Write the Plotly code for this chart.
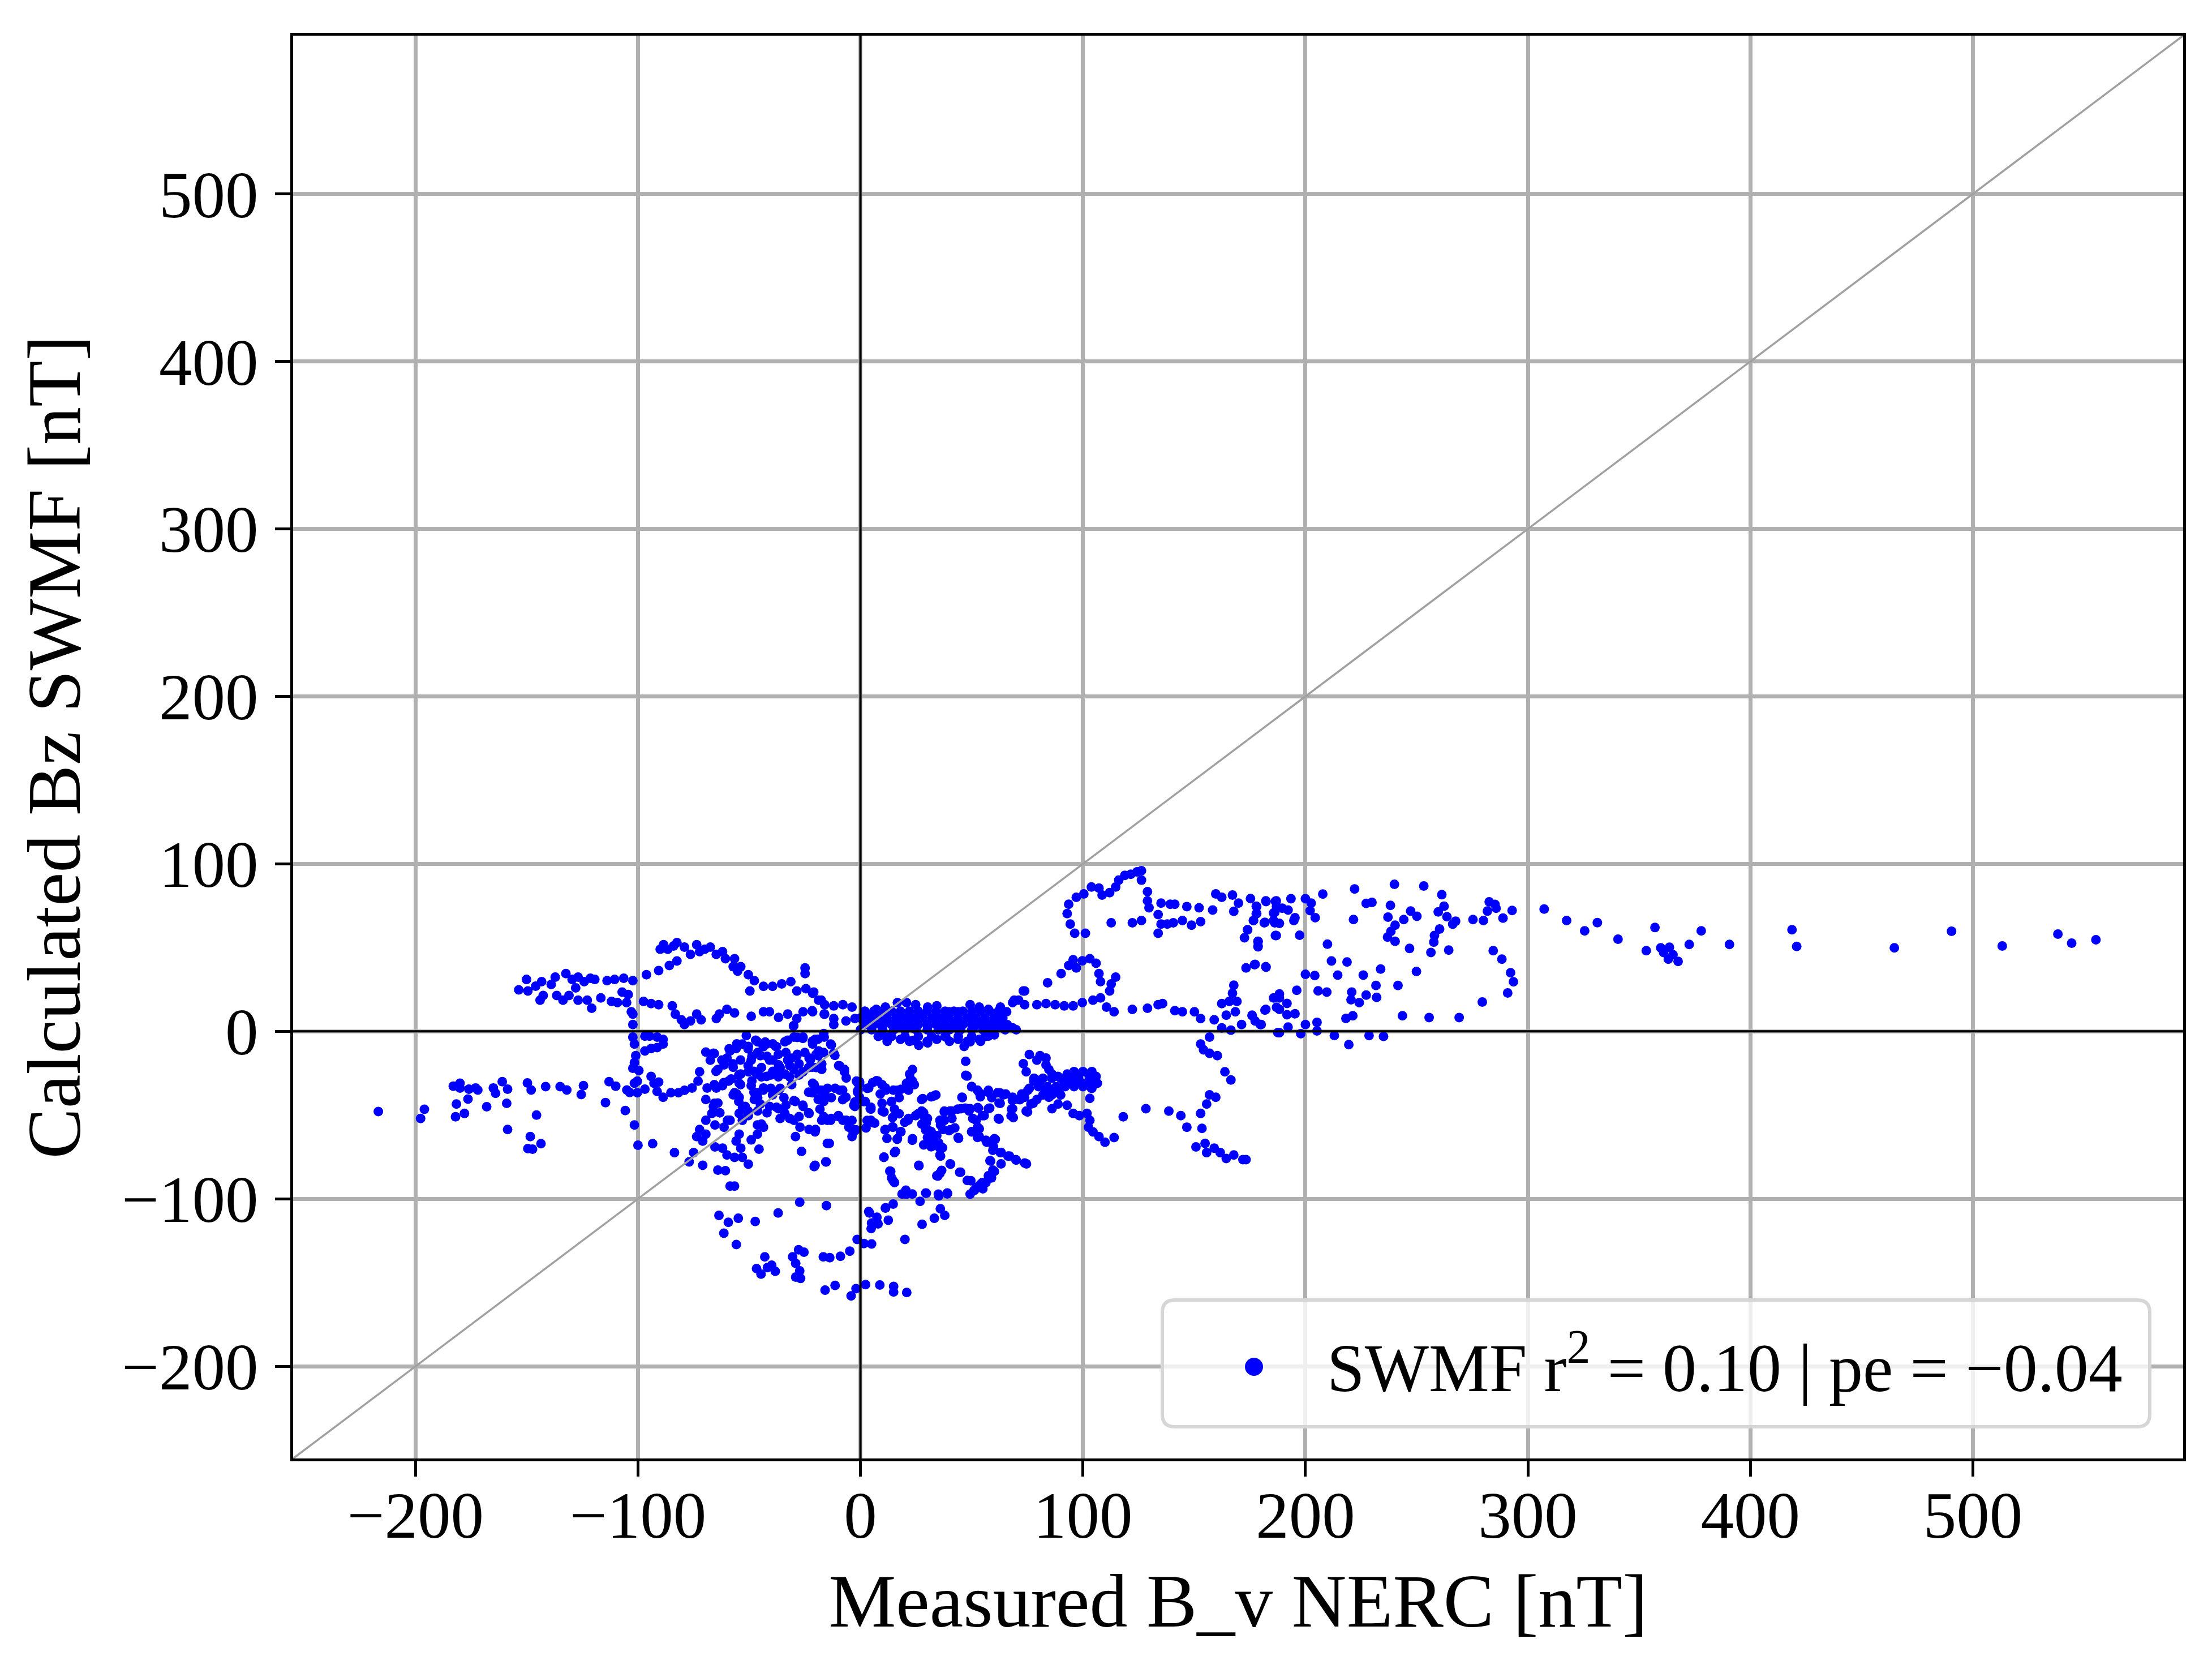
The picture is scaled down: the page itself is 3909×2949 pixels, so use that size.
import plotly.graph_objects as go

# ---------------- data ----------------
left_tail = [(-216.7,-47.9),(-196,-46.5),(-197.7,-52),(-183,-32.7),(-180,-31),(-180,-33.8),(-176,-34.5),
             (-173,-33.8),(-172,-35),(-181.6,-43.4),(-176.4,-40.4),(-182,-51),(-178,-49),(-168,-45),
             (-165,-33.8),(-164,-37),(-161,-30),(-158.6,-34.5),(-159,-43),(-158.6,-58.6),(-149.7,-30.8),
             (-148,-35),(-145.6,-50),(-148.4,-62.8),(-149.5,-70),(-147.4,-70.3),(-143.6,-67),(-141.5,-33),
             (-135,-33),(-132,-35),(-124.5,-32.4),(-125.5,-37.7),(-114.6,-42.5),(-113,-30),(-110,-32.7),
             (-105.7,-47.3),(-105,-35),(-103.7,-36.5),(-101.6,-55.9),(-100,-68),(-93.4,-67),(-83.6,-72.4)]

upper_band = [(-153.6,24.8),(-150.1,31),(-149.5,24.1),(-143.3,29.7),(-144,18.6),(-142.6,21.4),(-137.2,32.4),
              (-132.4,34.5),(-129.6,31),(-126.9,32.4),(-124.2,29.7),(-121.4,31.7),(-119.4,31),(-136.5,21.4),
              (-133.7,18.6),(-131,21.4),(-126.9,18.6),(-122.8,18.6),(-120.8,13.8),(-116.7,20),(-113.9,30.3),
              (-110.5,31),(-106.4,31.7),(-107.1,23.4),(-104.4,22),(-102.3,30.3),(-96.2,33.8),(-90.7,36.3),
              (-85.9,39.3),(-82.5,42),(-90,49),(-88.5,51.7),(-86.6,49),(-82.5,53),(-79.1,50.3),(-76.4,46),
              (-73.6,51.7),(-72.3,47.6),(-67.5,50.3),(-64.8,46),(-62,47.6),(-60.7,43.4),(-56.6,43.4),
              (-57.2,38.6),(-53.8,38.6),(-55.2,35.9),(-50.4,33.8),(-47.7,30.3),(-49.7,24.1),(-43.6,26.9),
              (-39.5,26.9),(-35.4,28.3),(-31.3,29.7),(-28.6,24.1),(-24.5,25.5),(-21,23.4),(-17.6,18.6),
              (-24.9,37.9),(-24.9,34.5),(-146,27),(-139,28),(-128,26),(-84,51),(-70,49)]

mid_band = [(-111.9,17.9),(-109.2,17.2),(-105.1,17.2),(-103,11.7),(-102.3,10.3),(-97.5,17.9),(-94.1,16.6),
            (-90.7,15.9),(-84.6,15.2),(-83.2,10.3),(-80.5,6.9),(-79.1,4.1),(-76.4,6.2),(-73.6,10.3),(-71.6,6.9),
            (-64.8,7.6),(-63.4,10.3),(-60,13.1),(-56.6,11),(-49.1,9),(-43.6,11.7),(-40.9,11.7),(-36.8,8.3),
            (-32.7,10.3),(-28.6,7.6),(-25.8,11.7),(-21.7,12.4),(-16.3,10.3),(-30,3.4),(-102.3,4.1),
            (-21.5,22.8),(-18.8,18.6),(-16.1,15.9),(-12,15.2),(-7.9,15.9),(-3.8,14.5),(-21.5,11.7),
            (-16.1,10.3),(-12,7.6),(-6.5,6.2),(-2.5,7.6),(-12,4.1)]

left_column = [(-102.3,-3.4),(-101.6,-7.6),(-96.9,-2.8),(-94.8,-2.8),(-91.4,-3.4),(-88.7,-4.8),(-88.7,-7.6),
               (-91.4,-9.7),(-94.1,-10.3),(-96.9,-11.7),(-101,-14.5),(-101.6,-18.6),(-102.3,-22),(-99.6,-23.4),
               (-100.3,-29.7),(-101.6,-31),(-100.3,-36.6),(-96.9,-34.5),(-94.1,-26.9),(-92.8,-31),(-90.7,-30.3),
               (-91.4,-35.9),(-88.7,-39.3),(-85.2,-36.6),(-81.8,-36.6),(-79.1,-35.2),(-75.7,-33.8),(-73,-29.7),
               (-72.3,-24.1),(-68.9,-33.8),(-64.8,-33.8),(-62,-32.4),(-59.3,-29.7),(-56.6,-36.6),(-54.5,-31),
               (-53.8,-25.5)]

neg_blob = [(-69.5,-12.4),(-66.1,-13.1),(-67.5,-17.2),(-64.1,-22.8),(-60,-15.9),(-55.9,-10.3),(-58.6,-11.7),
            (-53.1,-7.6),(-50.4,-9),(-46.3,-6.2),(-42.2,-7.6),(-38.1,-9),(-34,-6.2),(-29.9,-3.4),(-25.8,-3.4),
            (-20.4,-4.8),(-16.3,-3.4),(-49.1,-17.2),(-45,-14.5),(-40.8,-17.2),(-36.8,-20),(-32.7,-17.2),
            (-28.6,-14.5),(-23.1,-15.9),(-19,-14.5),(-50.4,-24.1),(-46.3,-25.5),(-42.2,-26.9),(-38.1,-24.1),
            (-34,-25.5),(-29.9,-22.8),(-25.8,-24.1),(-21.7,-21.4),(-17.6,-21.4),(-57.2,-21.4),(-61.3,-20),
            (-49.1,-32.4),(-46.3,-36.6),(-43.6,-33.8),(-39.5,-37.9),(-36.8,-35.2),(-47.7,-40.7),(-45,-43.4),
            (-40.8,-44.8),(-36.8,-46.2),(-51.8,-44.8),(-54.5,-39.3),(-57.2,-37.9),(-54.5,-49),(-53.1,-53.1),
            (-50.4,-50.3),(-58.6,-53.1),(-61.3,-57.2),(-65.4,-55.9),(-69.5,-53.1),(-66.1,-44.8),(-64.1,-42.8),
            (-69.5,-40.7),(-66.8,-49),(-72.3,-58.6),(-73.6,-62.8),(-69.5,-61.4),(-70.9,-65.5),(-75,-72.4),
            (-77,-77.9),(-70.9,-80),(-65.4,-69),(-62,-69.7),(-60,-73.8),(-56.6,-75.2),(-53.1,-75.2),(-50.4,-79.3),
            (-53.8,-69.7),(-55.9,-65.5),(-54.5,-61.4),(-49.1,-64.8),(-46.3,-61.4),(-45.6,-70.3),(-43.6,-57.2),
            (-46.3,-55.9),(-64.1,-82.8),(-60.7,-83.2),(-58.6,-92.4),(-56.6,-92.4),(-34,-49),(-29.9,-53.1),
            (-27.2,-57.2),(-29.2,-62.8),(-25.8,-44.8),(-23.1,-49),(-21.7,-36.6),(-19,-40.7),(-17,-35.2),
            (-23.1,-58.6),(-20.4,-60),(-26.5,-71.7),(-20.4,-80),(-15.6,-77.9),(-14.9,-66.9),(-14.9,-53.1),
            (-29.9,-41.4)]

blob_detail = [(-51.3,-2.5),(-47.1,-5.3),(-42.8,-6.4),(-39.4,-7.5),(-37.7,-9.2),(-32.7,-5.3),(-30.1,3.2),
               (-28.4,-3.6),(-25.9,-4.2),(-21.6,-5.9),(-19.1,-4.7),(-16.5,-1.3),(-13.1,-8.1),(-11.5,-14.3),
               (-9.8,-20.5),(-7.2,-22.7),(-6.4,-27.8),(-55.6,-7.5),(-59,-10.4),(-65.7,-13.2),(-62.3,-17.1),
               (-57.3,-19.4),(-64.9,-23.9),(-53.9,-17.1),(-50.5,-10.4),(-48.8,-14.9),(-46.2,-12.6),(-43.7,-9.2),
               (-42,-14.9),(-39.4,-17.1),(-36.9,-13.7),(-33.5,-12.6),(-31,-16),(-28.4,-13.7),(-25,-12.6),
               (-22.5,-17.1),(-19.9,-13.7),(-17.4,-19.4),(-16.5,-12.6),(-50.5,-20.5),(-47.9,-23.9),(-44.5,-21.6),
               (-39.4,-23.9),(-36.1,-21.6),(-31.8,-20.5),(-27.6,-19.4),(-23.3,-21.6),(-19.9,-21.6),(-17.4,-22.7),
               (-54.7,-26.1),(-48.8,-29.5),(-44.5,-27.2),(-40.3,-26.1),(-36.9,-27.2),(-31.8,-27.2),(-27.6,-26.1),
               (-65.7,-31.8),(-61.5,-30.6),(-58.1,-28.4),(-53.9,-31.8),(-47.9,-36.3),(-43.7,-35.1),(-40.3,-34),
               (-36.1,-34),(-30.9,-31.8),(-34.4,-39.6),(-46.2,-39.6),(-55.6,-37.4),(-54.7,-41.9),(-53,-45.3),
               (-50.5,-47.5),(-46.2,-47.5),(-42,-48.6),(-37.7,-45.3),(-33.5,-44.1),(-29.3,-41.9),(-25.9,-44.1),
               (-23.3,-48.6),(-23.3,-36.3),(-20.8,-31.8),(-18.2,-35.1),(-14.8,-34),(-11.4,-34),(-8,-35.1),
               (-13.1,-39.6),(-16.5,-41.9),(-8,-40.8),(-18.2,-46.4),(-16.5,-50.9),(-13.1,-52),(-9.8,-50.9),
               (-6.4,-53.1),(-27.6,-50.9),(-31.8,-52),(-36.1,-52),(-44.5,-55.4),(-59.8,-53.1),(-63.2,-48.6),
               (-65.7,-43),(-3,-44.1),(-1.3,-36.3),(-1.3,-30.6),(5.5,-30.6),(7.2,-29.5),(4.7,-45.3),(2.1,-41.9),
               (4.7,-53.1),(-3,-59.9)]

zero_band = [(3,10.3),(7.1,13.1),(11.2,14.5),(16.6,17.2),(20.7,17.2),(24.8,15.9),(30.2,14.5),(34.3,15.2),
             (39.8,11.7),(43.9,11.7),(49.3,15.9),(53.4,14.5),(57.5,13.1),(62.9,14.5),(65.7,11.7),(62.9,7.6),
             (68.4,17.2),(71.1,18.6),(73.8,24.1),(73.8,15.9),(79.3,15.9),(83.4,16.6),(87.5,15.9),(91.6,15.2),
             (95.6,15.2),(62.9,3.4),(68.4,2.1),(5.7,4.8),(11.2,6.2),(16.6,7.6),(22.1,7.6),(27.5,9),(33,7.6),
             (38.4,7.6),(43.9,6.2),(49.3,7.6),(54.8,6.2),(60.2,4.8),(9.8,2.1),(16.6,2.8),(23.4,2.1),(30.2,2.8),
             (37.1,2.1),(43.9,1.4),(50.7,2.1),(57.5,2.1),(9.8,-2.1),(12.5,-3.4),(18,-4.8),(23.4,-5.5),
             (26.2,-8.3),(30.2,-6.9),(34.3,-4.8),(38.4,-3.4),(43.9,-4.8),(46.6,-9),(49.3,-6.2),(53.4,-4.8),
             (57.5,-2.8),(60.2,-2.1)]

band_fill = [(2,12),(6,12),(10,12),(14,12),(18,12),(22,12),(26,12),(30,12),(34,12),(38,12),(42,12),(46,12),
             (50,12),(54,12),(58,12),(62,12),(0,8),(4,8),(8,8),(12,8),(16,8),(20,8),(24,8),(28,8),(32,8),(36,8),
             (40,8),(44,8),(48,8),(52,8),(56,8),(60,8),(64,8),(2,4),(6,4),(10,4),(14,4),(18,4),(22,4),(26,4),
             (30,4),(34,4),(38,4),(42,4),(46,4),(50,4),(54,4),(58,4),(62,4),(66,4),(0,1),(5,1),(10,1),(15,1),
             (20,1),(25,1),(30,1),(35,1),(40,1),(45,1),(50,1),(55,1),(60,1),(65,1),(70,1),(8,-3),(14,-3),
             (20,-3),(26,-3),(32,-3),(38,-3),(44,-3),(50,-3),(56,-3),(12,-6),(22,-6),(30,-6),(40,-6),(48,-6),
             (54,-6)]

upper_loop = [(92.9,70.3),(94.3,64.1),(96.3,58.6),(101.1,58.6),(93.6,75.9),(97,80),(100.4,82.1),(103.8,86.2),
              (107.2,85.5),(108.6,81.4),(112,82.8),(114.7,86.2),(116.1,90.3),(118.8,93.1),(121.5,93.8),
              (124.3,95.2),(126.3,95.9),(126.3,90.3),(129,83.4),(129,77.9),(129.7,73.8),(133.8,69.7),
              (133.8,58.6),(135.1,64.1),(137.9,64.1),(140.6,64.8),(135.1,76.6),(139.2,75.9),(141.3,75.9),
              (112.7,64.8),(122.2,64.8),(126.3,66.2),(144.7,66.2),(148.8,63.4),(152.9,65.5),(146.7,74.5),
              (152.2,73.8),(158.3,72.4),(159.7,82.1),(162.4,80),(167.2,81.4),(169.9,76.6),(167.8,71.7),
              (175.3,79.3),(178.1,74.5),(178.1,70.3),(176.7,66.2),(182.2,77.9),(186.9,77.9),(186.2,71),
              (181.5,64.8),(186.2,64.8),(174,60.7),(172.6,55.9),(178.7,53.8),(178.7,51),(186.9,57.2)]

mid_loop = [(84.1,29),(90.2,34.5),(93.6,39.3),(95.6,42.8),(97,37.9),(99.7,42.1),(103.1,43.4),(105.9,40.7),
            (107.2,34.5),(107.9,29.7),(112,24.1),(112.7,28.3),(114.7,32.4),(99.7,17.2),(104.5,18.6),
            (107.9,20),(110.6,14.5),(114,11.7),(122.2,13.1),(129,13.8),(133.8,15.9),(135.8,16.6),
            (141.3,12.4),(144.7,11.7),(150.1,11.7),(152.9,7.6),(159,6.9),(162.4,2.1),(166.5,0.7),
            (171.3,4.1),(176,9.7),(177.4,6.2),(180.1,4.1),(182.2,13.1),(164.4,9.7),(168.5,11.7),
            (162.4,16.6),(165.8,17.9),(169.2,17.9),(167.2,22.8),(167.8,27.6),(173.3,37.9),(177.4,40),
            (182.2,38.6),(188.3,20),(188.3,13.1),(187.6,-0.7),(73.2,24.1),(69.1,18.6)]

right_neg = [(152.9,-7.6),(154.2,-11),(156.9,-13.1),(156.9,-3.4),(160.4,-14.5),(163.8,-24.1),(166.5,-29),
             (156.9,-37.9),(159.7,-39.3),(155.6,-43.4),(152.9,-49),(146.7,-57.2),(153.5,-57.9),(144,-50.3),
             (138.6,-47.6),(128.3,-46.2),(118.1,-51),(150.8,-69),(154.9,-66.9),(155.6,-72.4),(159,-69.7),
             (161.7,-72.4),(164.4,-75.9),(167.8,-73.8),(171.9,-76.6),(173.3,-76.6)]

lower_mid = [(75.9,-13.8),(80.7,-14.5),(83.4,-15.9),(73.2,-19.3),(74.5,-24.1),(79.3,-17.2),(83.4,-20),
             (84.7,-22.8),(86.1,-25.5),(88.8,-26.9),(92.9,-25.5),(97,-25.5),(102.5,-25.5),(105.9,-26.9),
             (106.5,-31),(103.8,-33.8),(103.1,-40),(99.7,-31),(95.6,-31),(91.6,-31),(88.8,-33.8),(86.1,-36.6),
             (83.4,-35.2),(80.7,-32.4),(77.9,-29.7),(75.2,-35.2),(73.8,-39.3),(71.1,-40.7),(68.4,-39.3),
             (64.3,-37.9),(61.6,-36.6),(57.5,-35.2),(53.4,-36.6),(50,-33.1),(47.3,-26.2),(47.3,-17.9),
             (45.6,-39.3),(76.6,-43.4),(79.3,-40.7),(84.7,-39.3),(86.1,-46.2),(88.8,-43.4),(92.9,-44.1),
             (95.6,-49),(98.4,-50.3),(101.8,-49),(103.1,-53.1),(102.5,-57.2),(104.5,-60),(107.2,-62.8),
             (109.9,-66.2),(114,-63.4),(74.5,-47.6),(68.4,-46.2),(67.7,-50.3),(62.3,-42.8),(62.3,-52.4),
             (57.5,-46.2),(52.7,-45.5),(49.3,-46.2),(45.2,-46.2),(41.1,-47.6),(37.7,-47.6),(35.7,-53.1),
             (37.1,-58.6),(39.8,-59.3),(43.9,-63.4),(50,-60),(52.7,-57.2),(54.8,-50.3),(52,-53.1),
             (53.4,-62.8),(56.8,-66.2),(60.2,-64.1),(59.5,-71),(62.9,-72.4),(66.3,-74.5),(69.8,-76.6),
             (73.8,-78.6),(58.2,-77.2),(59.5,-82.8),(57.5,-86.2),(54.8,-90.3),(52,-93.1),(49.3,-97.2),
             (48,-89),(40.5,-79.3),(35.7,-84.8),(34.3,-86.2),(44.6,-84.1),(26.2,-80),(28.2,-49.7),
             (29.6,-54.5),(30.2,-58.6),(30.9,-64.1),(32.3,-68.3),(35.7,-69.7),(35.7,-73.8),(27.5,-47.6),
             (24.8,-50.3),(21.4,-53.1),(23.4,-64.1),(18,-60),(16.6,-64.1),(15.3,-72.4),(10.5,-75.2),
             (13.2,-83.4),(14.6,-89),(20.7,-97.2),(29.6,-96.6),(35,-97.2),(39.1,-96.6),(11.2,-105.5),
             (3.7,-107.6),(-5.2,-57.2),(-3.8,-62.8),(-7.9,-53.1),(-9.9,-50.3),(-13.4,-53.1),(-17.4,-53.1),
             (-20.2,-58.6),(-14,-66.9),(-15.4,-77.9),(-20.8,-80.7),(-0.4,-31),(3.7,-33.8),(7.8,-29.7),
             (11.2,-33.8),(16.6,-35.2),(20.7,-31),(23.4,-22.8),(22.1,-25.5),(23.4,-29.7),(27.5,-40.7),
             (33,-38.6),(13.9,-42.1),(9.8,-47.6),(11.2,-58.6),(14.6,-57.2),(5.7,-54.5),(4.4,-46.2),
             (-2.5,-42.1),(-6.5,-39.3),(-9.3,-35.2),(-16.1,-37.9),(-18.8,-35.2),(-21.5,-36.6),(-9.3,-20.7),
             (-7.2,-24.1),(-13.4,-7.6),(-12,-13.1),(-21.5,-7.6),(-18.8,-11.7),(-21.5,-31),(-1.8,-29.7),
             (-1.1,-35.2),(-2.5,-44.8),(-0.4,-39.3),(-3.8,-58.6),(31,-62),(33,-66),(29,-52),(55,-94),(51,-95)]

mid_detail = [(-0.4,-30.1),(-1.3,-35.7),(3,-34),(7.2,-29.5),(9.7,-31.8),(11.4,-35.1),(8.9,-37.4),(14.8,-35.1),
              (18.2,-34.6),(21.6,-35.1),(22.5,-28.4),(24.2,-31.8),(17.4,-39.6),(14,-41.9),(9.7,-43),(1.3,-41.9),
              (4.7,-46.4),(10.6,-48.1),(15.3,-46.4),(17.4,-49.2),(14.4,-51.5),(3,-53.2),(6.4,-54.8),(2.5,-57.7),
              (-2.1,-58.8),(-3.8,-53.2),(14.4,-57.1),(11,-58.8),(18.2,-59.9),(11.9,-63.9),(16.5,-64.4),
              (21.6,-52),(19.9,-54.3),(23.3,-65),(28,-40.2),(31.8,-39.1),(33.9,-38),(25.9,-49.2),(28.4,-48.6),
              (30.1,-52),(27.6,-55.4),(29.3,-58.8),(31.8,-59.9),(30.1,-63.3),(32.6,-64.4),(34.3,-62.2),
              (28.4,-67.8),(31.8,-68.9),(35.2,-66.7),(36.9,-69.5),(36,-74.5),(37.7,-48.1),(40.3,-47.5),
              (43.7,-46.4),(47.1,-45.8),(48.8,-47.5),(37.7,-53.2),(36,-56),(40.3,-58.8),(42.4,-57.7),(41.1,-52),
              (44.1,-63.9),(45.8,-39.6),(47.9,-26.7),(50,-32.9),(52.6,-35.1),(53.9,-39.1),(57.2,-36.3),
              (59,-39.6),(62.8,-36.8),(65.3,-37.4),(62.8,-43),(68.3,-41.3),(71.7,-40.8),(72.5,-37.4),(75.9,-34),
              (78.5,-28.4),(77.6,-43),(58.1,-45.8),(53,-45.8),(50.5,-52),(55.6,-50.3),(62,-52),(68.7,-51.5),
              (67.9,-46.4),(75.1,-48.1),(53.4,-58.2),(50,-59.9),(52.6,-63.3),(56.4,-65),(60.6,-64.4),
              (59.8,-68.9),(63.2,-72.3),(67,-74.5),(70,-76.8),(74.6,-79.1),(58.5,-77.4),(63.2,-79.1),
              (60.2,-83.6),(58.9,-87.5),(49.6,-89.2),(53.9,-91.4),(51.3,-94.8),(56.4,-90.3),(40.3,-79.1),
              (36.5,-83),(34.8,-86.4),(45,-84.1),(26.3,-80.2),(13.6,-83.6),(14,-87.5),(15.3,-90.3),(10.6,-75.1),
              (15.7,-71.7),(20.4,-94.8),(23.3,-97.1),(29.3,-96.5),(35.2,-98.2),(39,-96.5),(18.7,-97.1)]

blob_c = [(78,-28),(82,-28),(86,-28),(90,-28),(94,-28),(98,-28),(80,-33),(84,-33),(88,-33),(92,-33),(96,-33),
          (100,-33),(104,-33),(82,-38),(86,-38),(90,-38),(96,-24),(100,-24),(104,-24),(103,-28),(105,-30),
          (102,-32),(104,-34)]

bottom_tail = [(-63.6,-109.9),(-59.4,-114),(-54.9,-111.6),(-61.4,-120.5),(-55.8,-127.3),(-47.3,-113.5),
               (-37,-108.4),(-27.3,-102),(-15.3,-104),(-43,-134.6),(-46.7,-141.6),(-44.7,-144.9),(-41.8,-141),
               (-39.9,-139.6),(-38.3,-143.2),(-30.5,-134.6),(-27.8,-130.4),(-25.4,-131.8),(-29.1,-138.5),
               (-27.3,-143),(-29.1,-146.7),(-26.9,-147.5),(-16.7,-134.6),(-13.8,-135.1),(-9,-134.3),
               (-4.8,-131.2),(-1.5,-124.2),(1.6,-126.7),(5,-126.9),(4.1,-108.4),(7.4,-111),(5,-114.4),
               (7.9,-114.9),(4.8,-117.7),(11.3,-105.4),(12.5,-112.7),(14.7,-103.1),(20,-124.2),(27.7,-115.2),
               (33.2,-111.6),(35.9,-105.9),(37.9,-109.9),(39,-97),(26.8,-101.5),(20,-97),(-15.9,-154.5),
               (-11.4,-151.7),(-4.2,-157.9),(-2,-153.6),(2.3,-151.2),(8.7,-151.4),(14.9,-152.3),(14.9,-155.6),
               (20.8,-155.9)]

right_cloud = [(222.1,85),(240,87.8),(253.2,86.8),(261.3,81.6),(207.8,82),(193.5,79.2),(200,79.2),(202.6,76.6),
               (182.3,77.5),(177.9,74.7),(186.5,77.7),(187,74.7),(189.6,73.5),(192.2,72.4),(185.7,70.7),
               (177.9,70.2),(176.6,66.2),(181.8,65.1),(185.7,66.2),(188.3,64.5),(194.8,66.2),(195.3,67.9),
               (202.1,72.1),(204.4,67.9),(174,60.6),(186.5,57.2),(197.4,57.4),(178.7,53.8),(178.7,50.5),
               (209.9,52.1),(227.3,76.4),(229.9,77),(238.2,75.2),(221.6,66.8),(237.1,68.2),(240.3,63.4),
               (244.2,66.8),(247.3,71.8),(250.1,68.7),(259.7,71.3),(262.3,74.7),(263.6,68.5),(266.2,64),
               (267.5,65.8),(260.3,61.1),(258,57.2),(257.7,53.3),(238.4,59.7),(236.9,56.3),(240.3,53.8),
               (246.8,49.5),(256.4,47.1),(264.4,48.5),(275.3,66.8),(280,66.2),(282.6,77.3),(285.2,75.8),
               (285.7,73.5),(281.8,71.8),(288.8,67.6),(292.9,72.2),(284.4,48.2),(288.3,43.1),(292.2,35),
               (293.5,29.6),(290.9,22.9),(279.5,17.5),(177.1,39.8),(182.3,38.3),(211.7,42),(218.7,41.4),
               (200,34.1),(204.2,33.3),(214.5,33.6),(226,33.6),(233.8,37.2),(231.7,27.4),(241.6,27.4),
               (249.9,35.8),(196.1,24.5),(205.7,24.2),(209.6,23.4),(220.8,23.4),(227.3,21.7),(232,20.3),
               (220.5,18.9),(224.2,17.2),(185.7,20),(188.3,22.3),(187,14.4),(191.7,16.7),(181.8,12.7),
               (176.1,9.3),(191.7,9.9),(195.3,10.5),(218.2,7.7),(221.3,9.3),(243.6,9.3),(255.6,8.2),
               (269.1,8.2),(179.7,4.1),(192.2,2.6),(200,4.1),(205.2,5.4),(188.3,-0.8),(197.9,-1.4),
               (205.2,0.3),(213,-2.5),(228.6,-2.5),(235.1,-3),(219.5,-7.9)]

far_right = [(307.3,73),(317.4,66.2),(325.5,60),(331.2,64.9),(340.5,55),(357.1,62),(353.2,48.2),(359.7,49.9),
             (363.6,50.2),(361,47.1),(363.1,43.1),(365.2,45.7),(367.5,41.8),(372.5,51.9),(377.9,60),
             (390.6,51.9),(418.7,60.7),(420.8,50.7),(464.7,49.9),(490.4,59.8),(513.2,51),(538.2,58.1),
             (544.4,52.7),(555.3,54.7)]

clusters = [left_tail, upper_band, mid_band, left_column, neg_blob, blob_detail, zero_band, band_fill,
            upper_loop, mid_loop, right_neg, lower_mid, mid_detail, blob_c, bottom_tail, right_cloud, far_right]

x_range = [-255.0, 594.5]
y_range = [-255.0, 594.5]
x_ticks = [-200, -100, 0, 100, 200, 300, 400, 500]
y_ticks = [-200, -100, 0, 100, 200, 300, 400, 500]
legend_label = "SWMF r<sup>2</sup> = 0.10 | pe = \u22120.04"

# ---------------- figure ----------------
xs = [p[0] for c in clusters for p in c]
ys = [p[1] for c in clusters for p in c]

def fmt(v):
    return ("\u2212" + str(abs(v))) if v < 0 else str(v)

FONT = "Liberation Serif"
W, H = 3909, 2949
ML, MR, MT, MB = 510, 59, 55, 380
PW, PH = W - ML - MR, H - MT - MB

def px_x(p):   # figure pixel -> paper x
    return (p - ML) / PW

def px_y(p):   # figure pixel -> paper y
    return (H - MB - p) / PH

fig = go.Figure()
fig.add_trace(go.Scatter(x=xs, y=ys, mode="markers", name=legend_label, showlegend=False,
                         marker=dict(color="#0000ff", size=17, line=dict(width=0))))
fig.add_trace(go.Scatter(x=x_range, y=x_range, mode="lines", showlegend=False,
                         line=dict(color="#a0a0a0", width=3.5), hoverinfo="skip"))

# reference lines at zero
fig.add_shape(type="line", xref="paper", yref="y", x0=0, x1=1, y0=0, y1=0,
              line=dict(color="black", width=4), layer="above")
fig.add_shape(type="line", xref="x", yref="paper", x0=0, x1=0, y0=0, y1=1,
              line=dict(color="black", width=4), layer="above")

# legend box (matplotlib-style rounded frame)
bx0, bx1, by0, by1 = px_x(2046), px_x(3791), px_y(2513), px_y(2289)
rx, ry = 22 / PW, 22 / PH
path = (f"M {bx0+rx},{by0} L {bx1-rx},{by0} Q {bx1},{by0} {bx1},{by0+ry} "
        f"L {bx1},{by1-ry} Q {bx1},{by1} {bx1-rx},{by1} L {bx0+rx},{by1} "
        f"Q {bx0},{by1} {bx0},{by1-ry} L {bx0},{by0+ry} Q {bx0},{by0} {bx0+rx},{by0} Z")
fig.add_shape(type="path", xref="paper", yref="paper", path=path,
              fillcolor="rgba(255,255,255,0.8)", line=dict(color="#d6d6d6", width=6), layer="above")
mx, my = px_x(2208), px_y(2407)
fig.add_shape(type="circle", xref="paper", yref="paper", xsizemode="pixel", ysizemode="pixel",
              xanchor=mx, yanchor=my, x0=-16, x1=16, y0=-16, y1=16,
              fillcolor="#0000ff", line=dict(width=0), layer="above")
fig.add_annotation(xref="paper", yref="paper", x=px_x(2335), y=px_y(2400), xanchor="left", yanchor="middle",
                   text=legend_label, showarrow=False,
                   font=dict(family=FONT, size=120, color="black"))

axis_common = dict(showgrid=True, gridcolor="#b0b0b0", gridwidth=6.5, zeroline=False,
                   showline=True, linecolor="black", linewidth=5, mirror=True,
                   ticks="outside", ticklen=27, tickwidth=4.5, tickcolor="black",
                   tickfont=dict(family=FONT, size=117, color="black"))

fig.update_xaxes(range=x_range, tickvals=x_ticks, ticktext=[fmt(v) for v in x_ticks],
                 title=dict(text="Measured B_v NERC [nT]", font=dict(family=FONT, size=134, color="black"),
                            standoff=40),
                 ticklabelstandoff=-32, **axis_common)
fig.update_yaxes(range=y_range, tickvals=y_ticks, ticktext=[fmt(v) for v in y_ticks],
                 title=dict(text="Calculated Bz SWMF [nT]", font=dict(family=FONT, size=134, color="black"),
                            standoff=30),
                 ticklabelstandoff=6, **axis_common)

fig.update_layout(width=W, height=H,
                  margin=dict(l=ML, r=MR, t=MT, b=MB),
                  plot_bgcolor="white", paper_bgcolor="white",
                  font=dict(family=FONT, size=117, color="black"),
                  showlegend=False)

fig.write_html("out.html")
